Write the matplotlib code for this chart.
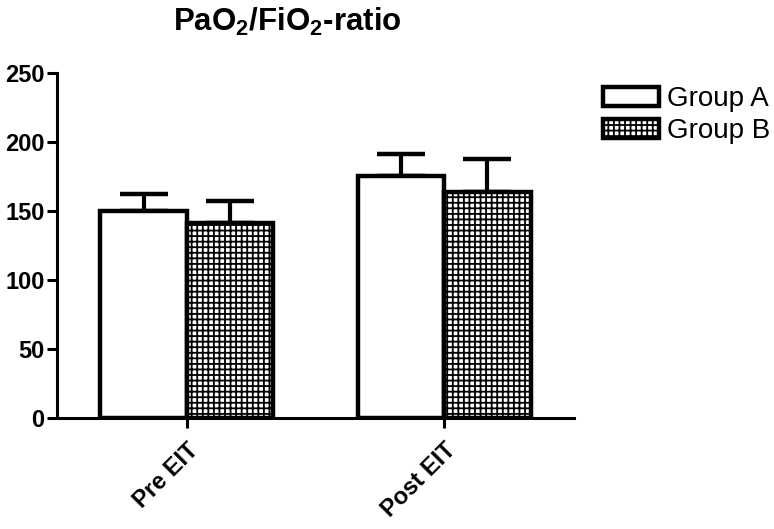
import matplotlib
matplotlib.use("Agg")
import matplotlib.pyplot as plt
import numpy as np

plt.rcParams['font.family'] = ['Liberation Sans', 'DejaVu Sans']
plt.rcParams['mathtext.default'] = 'regular'
plt.rcParams['hatch.linewidth'] = 1.3

categories = ["Pre EIT", "Post EIT"]
groups = ["Group A", "Group B"]
means_a = [150, 175]
means_b = [141, 164]
sem_a = [12, 16]
sem_b = [16, 24]

fig = plt.figure(figsize=(7.74, 5.29), dpi=100)
ax = fig.add_axes([57/774, 1-418/529, (574-57)/774, (418-73)/529])

x = np.arange(len(categories))
w = 0.336

bars_a = ax.bar(x - w/2, means_a, w, color='white', edgecolor='black',
                linewidth=3.2, label=groups[0], zorder=3)
bars_b = ax.bar(x + w/2, means_b, w, color='white', edgecolor='black',
                hatch='+++', linewidth=3.2, label=groups[1], zorder=3)

# upper error bars only
ax.errorbar(x - w/2, means_a, yerr=[np.zeros(2), sem_a], fmt='none',
            ecolor='black', elinewidth=3, capsize=17, capthick=3.2, zorder=2)
ax.errorbar(x + w/2, means_b, yerr=[np.zeros(2), sem_b], fmt='none',
            ecolor='black', elinewidth=3, capsize=17, capthick=3.2, zorder=2)

ax.set_xlim(-0.505, 1.505)
ax.set_ylim(0, 250)
ax.set_yticks([0, 50, 100, 150, 200, 250])
ax.set_xticks(x)
ax.set_xticklabels(categories, rotation=45, ha='right', rotation_mode='anchor',
                   fontsize=17, fontweight='bold')
for lbl in ax.get_yticklabels():
    lbl.set_fontweight('bold')
    lbl.set_fontsize(17)

for s in ['top', 'right']:
    ax.spines[s].set_visible(False)
for s in ['left', 'bottom']:
    ax.spines[s].set_linewidth(2.2)
ax.tick_params(axis='both', width=2.2, length=7, pad=2)
ax.tick_params(axis='x', pad=8)

fig.text(287/774, 1-22/529, "PaO$_2$/FiO$_2$-ratio", ha='center', va='center',
         fontsize=22.5, fontweight='bold')

ax.legend(loc='upper left', bbox_to_anchor=(603/774, 1-86/529),
          bbox_transform=fig.transFigure, frameon=False, fontsize=20,
          handlelength=2.0, handleheight=0.7, handletextpad=0.3,
          labelspacing=0.22, borderpad=0, borderaxespad=0)

fig.savefig("out.png", dpi=100)
